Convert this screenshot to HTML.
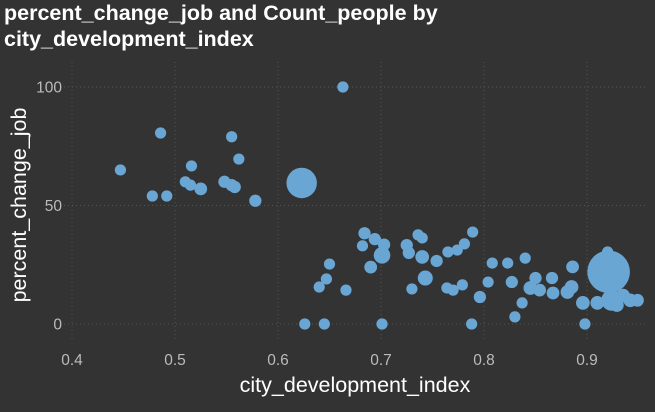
<!DOCTYPE html>
<html><head><meta charset="utf-8"><style>
body{margin:0;background:#333333;}
svg{display:block;font-family:"Liberation Sans",sans-serif;}
</style></head><body>
<svg id="chart" width="655" height="412">
<rect width="655" height="412" fill="#333333"/>
<text x="4" y="20" fill="#ffffff" font-size="21.5" font-weight="bold">percent_change_job and Count_people by</text>
<text x="4" y="46" fill="#ffffff" font-size="21.5" font-weight="bold">city_development_index</text>
<g id="grid"></g><g id="ticks"></g><g id="marks"></g>
<text x="355" y="392" fill="#ffffff" font-size="21.5" text-anchor="middle">city_development_index</text>
<text transform="translate(26,205) rotate(-90)" fill="#ffffff" font-size="21.5" text-anchor="middle">percent_change_job</text>
</svg>
<script>
const xTicks=[0.4,0.5,0.6,0.7,0.8,0.9];
const xTickLabels=["0.4","0.5","0.6","0.7","0.8","0.9"];
const yTicks=[0,50,100];
const yTickLabels=["0","50","100"];
const xVals=[0.447,0.486,0.478,0.492,0.516,0.510,0.515,0.525,0.555,0.562,0.548,0.555,0.558,0.578,0.623,0.663,
0.626,0.645,0.701,0.788,0.898,
0.640,0.647,0.650,0.666,0.684,0.694,0.703,0.682,0.701,0.690,0.725,0.727,0.736,0.740,0.740,0.743,0.730,0.754,
0.789,0.781,0.774,0.765,0.764,0.770,0.779,0.804,0.796,0.808,0.823,0.840,0.827,0.837,0.830,0.850,0.866,0.845,0.854,0.867,0.881,0.886,0.885,0.920,0.921,0.896,0.910,0.924,0.929,0.942,0.949,0.935];
const yVals=[65,80.6,54,54,66.7,60,58.6,57,79,69.6,60,58.6,57.8,52,59.5,100,
0,0,0,0,0,
15.6,19,25.3,14.3,38.3,35.8,33.5,33,29,24,33.3,30,37.6,36.3,28.3,19.4,14.8,26.6,
38.8,33.8,31.2,30.4,15.2,14.3,16.5,17.7,11.4,25.7,25.7,27.8,17.7,8.9,3,19.4,19.4,15.2,14.3,13.1,13.5,24.1,15.6,30.4,22,8.9,8.9,10,8,10,10,12];
const counts=[1,1,1,1,1,1,1,1.3,1,1,1.2,1.2,1.2,1.2,7.4,1,
1,1,1,1,1,
1,1,1,1,1.2,1.2,1.2,1,2.2,1.3,1.2,1.2,1,1,1.5,1.8,1,1.2,
1,1,1,1,1,1,1,1,1.2,1,1,1,1.2,1,1,1.2,1.2,1.5,1.3,1.3,1.5,1.3,1.5,1,14.5,1.5,1.5,3.5,1.5,1.5,1.3,1.5];
const NS="http://www.w3.org/2000/svg";
const X0=72,X1=587,Y0=324,Y1=87;
function sx(v){return X0+(v-0.4)/(0.9-0.4)*(X1-X0);}
function sy(v){return Y0+(v-0)/(100-0)*(Y1-Y0);}
function sr(c){return 5.6*Math.sqrt(c);}
const grid=document.getElementById('grid'),ticks=document.getElementById('ticks'),marks=document.getElementById('marks');
xTicks.forEach((t,i)=>{
 const l=document.createElementNS(NS,'line');
 l.setAttribute('x1',sx(t));l.setAttribute('x2',sx(t));l.setAttribute('y1',62);l.setAttribute('y2',342);
 l.setAttribute('stroke','#555555');l.setAttribute('stroke-dasharray','1,3');
 
 
 grid.appendChild(l);
 const tx=document.createElementNS(NS,'text');
 tx.setAttribute('x',sx(t));tx.setAttribute('y',365);tx.setAttribute('fill','#bbbbbb');tx.setAttribute('font-size','15.5');tx.setAttribute('text-anchor','middle');
 tx.textContent=xTickLabels[i];
 
 
 ticks.appendChild(tx);
});
yTicks.forEach((t,i)=>{
 const l=document.createElementNS(NS,'line');
 l.setAttribute('x1',60);l.setAttribute('x2',645);l.setAttribute('y1',sy(t));l.setAttribute('y2',sy(t));
 l.setAttribute('stroke','#555555');l.setAttribute('stroke-dasharray','1,3');
 
 
 grid.appendChild(l);
 const tx=document.createElementNS(NS,'text');
 tx.setAttribute('x',62);tx.setAttribute('y',sy(t)+5.5);tx.setAttribute('fill','#bbbbbb');tx.setAttribute('font-size','15.5');tx.setAttribute('text-anchor','end');
 tx.textContent=yTickLabels[i];
 
 
 ticks.appendChild(tx);
});
xVals.forEach((v,i)=>{
 const c=document.createElementNS(NS,'circle');
 c.setAttribute('cx',sx(v));c.setAttribute('cy',sy(yVals[i]));c.setAttribute('r',sr(counts[i]));
 c.setAttribute('fill','#6aa6d4');
 
 
 marks.appendChild(c);
});
</script>
</body></html>
